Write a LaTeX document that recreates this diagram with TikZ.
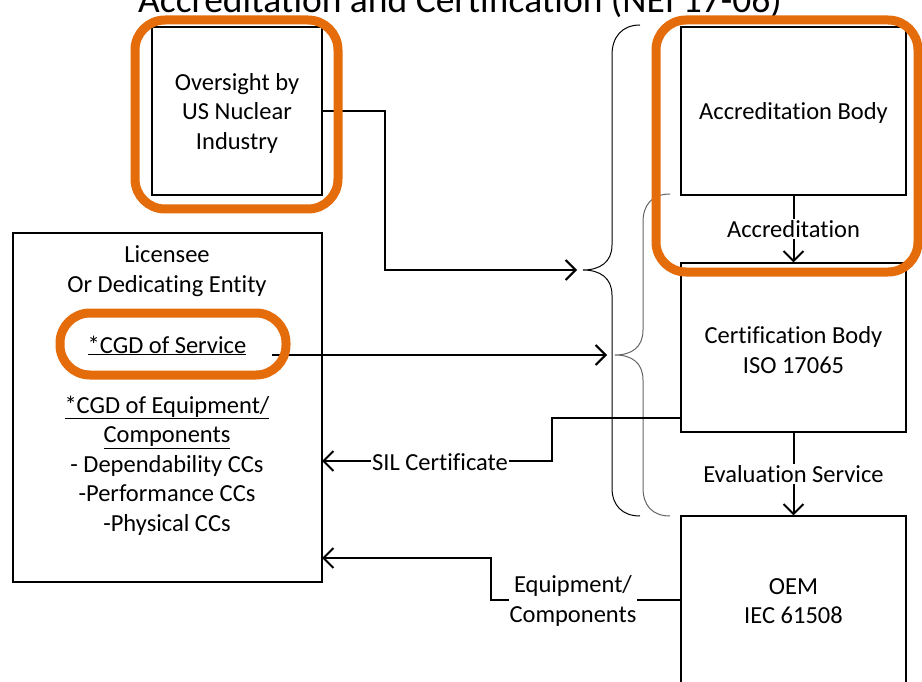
\documentclass[tikz,border=0pt]{standalone}
\usepackage{fontspec}
\setmainfont{Carlito}[Ligatures=NoCommon]
\usetikzlibrary{arrows.meta,calc}
\definecolor{orng}{RGB}{228,108,10}
\tikzset{
 box/.style={draw=black, line width=1.1pt, fill=white, inner sep=0pt},
 conn/.style={line width=2pt, -{Straight Barb[length=10pt,width=20pt]}},
 lbl/.style={fill=white, inner sep=1pt, font=\fontsize{24.5}{29.5}\selectfont, align=center},
 txt/.style={inner sep=0pt, font=\fontsize{24.5}{29.5}\selectfont, align=center},
 hl/.style={draw=orng, line width=9pt, rounded corners=30pt},
 bracestyle/.style={line width=1pt},
 bracestyleb/.style={line width=1pt, draw=black!60}
}
\begin{document}
\begin{tikzpicture}[x=1pt,y=-1pt]
\useasboundingbox (0,0) rectangle (922,682);
\fill[white] (0,0) rectangle (922,682);
\clip (0,0) rectangle (922,682);
% title
\node[anchor=base, inner sep=0pt, font=\fontsize{37.5}{44}\selectfont] (title) at (460,13) {Accreditation and Certification (NEI 17-06)};
% boxes
\node[box, minimum width=170pt, minimum height=168pt] (ov) at (237,111) {};
\node[txt] (ovt) at (237,113) {Oversight by\\US Nuclear\\Industry};
\node[box, minimum width=225pt, minimum height=168pt] (ab) at (793.5,111) {};
\node[txt] (abt) at (793.5,113) {Accreditation Body};
\node[box, minimum width=225pt, minimum height=169pt] (cb) at (793.5,347.5) {};
\node[txt] (cbt) at (793.5,350) {Certification Body\\ISO 17065};
\node[box, minimum width=225pt, minimum height=200pt] (oem) at (793.5,616) {};
\node[txt] (oemt) at (793.5,601) {OEM\\IEC 61508};
\node[box, minimum width=309pt, minimum height=349pt] (lic) at (167.5,407.5) {};
\node[txt] (lichead) at (167,271) {Licensee\\Or Dedicating Entity};
\node[txt] (cgds) at (167,345.5) {\underline{*CGD of Service}};
\node[txt] (cgde) at (167,465.5) {\underline{*CGD of Equipment/}\\\underline{Components}\\- Dependability CCs\\-Performance CCs\\-Physical CCs};
% braces
\coordinate (b1tip) at (583,270);
\coordinate (b2tip) at (615,355);
\draw[bracestyle] (640,25) .. controls (622,25) and (612,37) .. (612,55) -- (612,245)
  .. controls (612,262) and (600,270) .. (b1tip)
  .. controls (600,270) and (612,278) .. (612,295) -- (612,488)
  .. controls (612,505) and (622,516) .. (640,516);
\draw[bracestyleb] (670,194) .. controls (652,194) and (643,205) .. (643,222) -- (643,330)
  .. controls (643,347) and (632,355) .. (b2tip)
  .. controls (632,355) and (643,363) .. (643,380) -- (643,488)
  .. controls (643,505) and (652,516) .. (670,516);
% connectors
\coordinate (a1) at (577,270);
\coordinate (a2) at (607,355);
\coordinate (s2) at (272,355);
\draw[conn] (ov.east) -- (385,111) |- (a1);
\draw[conn] (s2) -- (a2);
\draw[conn] (ab.south) -- node[lbl] (acc) {Accreditation} (cb.north);
\draw[conn] (cb.south) -- node[lbl, pos=0.5] (evs) {Evaluation Service} (oem.north);
\coordinate (c1) at (681,418);
\coordinate (c2) at (552,418);
\coordinate (c3) at (552,461);
\coordinate (l1) at (322,461);
\draw[conn] (c1) -- (c2) -- (c3) -- (l1);
\node[lbl] (sil) at (440,462) {SIL Certificate};
\coordinate (e1) at (681,600);
\coordinate (e2) at (491,600);
\coordinate (e3) at (491,558);
\coordinate (l2) at (322,558);
\draw[conn] (e1) -- (e2) -- (e3) -- (l2);
\node[lbl] (eqc) at (573,601) {Equipment/\\Components};
% highlights
\draw[hl] (135,20) rectangle (338,209);
\draw[hl] (656,20) rectangle (918,272);
\draw[hl] (60,313) rectangle (286,375);
\end{tikzpicture}
\end{document}
